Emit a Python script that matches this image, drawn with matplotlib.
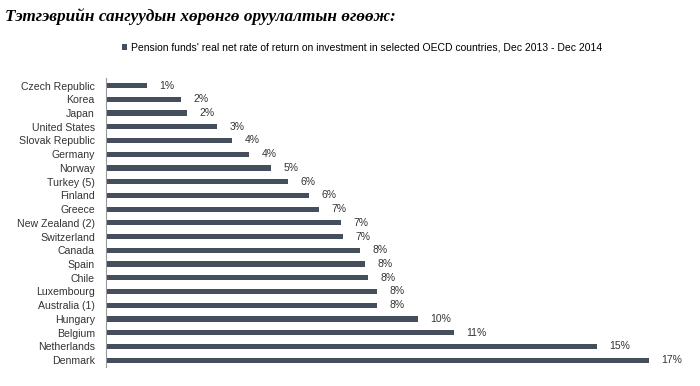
import matplotlib.pyplot as plt

countries = ['Czech Republic', 'Korea', 'Japan', 'United States', 'Slovak Republic',
             'Germany', 'Norway', 'Turkey (5)', 'Finland', 'Greece', 'New Zealand (2)',
             'Switzerland', 'Canada', 'Spain', 'Chile', 'Luxembourg', 'Australia (1)',
             'Hungary', 'Belgium', 'Netherlands', 'Denmark']
returns = [1.25, 2.31, 2.49, 3.41, 3.89, 4.41, 5.08, 5.59, 6.24, 6.54, 7.24,
           7.28, 7.81, 7.96, 8.07, 8.33, 8.33, 9.59, 10.70, 15.10, 16.70]

bar_color = '#444e5c'
text_color = '#333333'

fig = plt.figure(figsize=(7, 3.86), dpi=100)
ax = fig.add_axes([0.1514, 0.0492, 0.836, 0.7487])

y = list(range(len(countries)))
bars = ax.barh(y, returns, height=0.38, color=bar_color)
for yi, v in zip(y, returns):
    ax.annotate('%d%%' % round(v), (v, yi), xytext=(9, 0), textcoords='offset points',
                va='center', ha='left', fontsize=7.5, color=text_color,
                family='Liberation Sans')

ax.set_xlim(0, 18)
ax.set_ylim(20.5, -0.55)
ax.set_yticks(y)
ax.set_yticklabels(countries, fontsize=7.6, color=text_color, family='Liberation Sans')
ax.tick_params(axis='y', length=0, pad=8)
ax.set_xticks([])
for s in ['top', 'right', 'bottom']:
    ax.spines[s].set_visible(False)
ax.spines['left'].set_color('#999999')
ax.spines['left'].set_linewidth(0.8)

fig.text(0.007, 0.958, 'Тэтгэврийн сангуудын хөрөнгө оруулалтын өгөөж:',
         fontsize=12.4, fontweight='bold', fontstyle='italic',
         family='Liberation Serif', va='center', ha='left')

fig.legend([bars], ["Pension funds' real net rate of return on investment in selected OECD countries, Dec 2013 - Dec 2014"],
           loc='center', bbox_to_anchor=(0.517, 0.876), frameon=False,
           handlelength=0.5, handleheight=0.5, handletextpad=0.3,
           prop={'family': 'Liberation Sans', 'size': 7.5})

fig.savefig('out.png', dpi=100)
